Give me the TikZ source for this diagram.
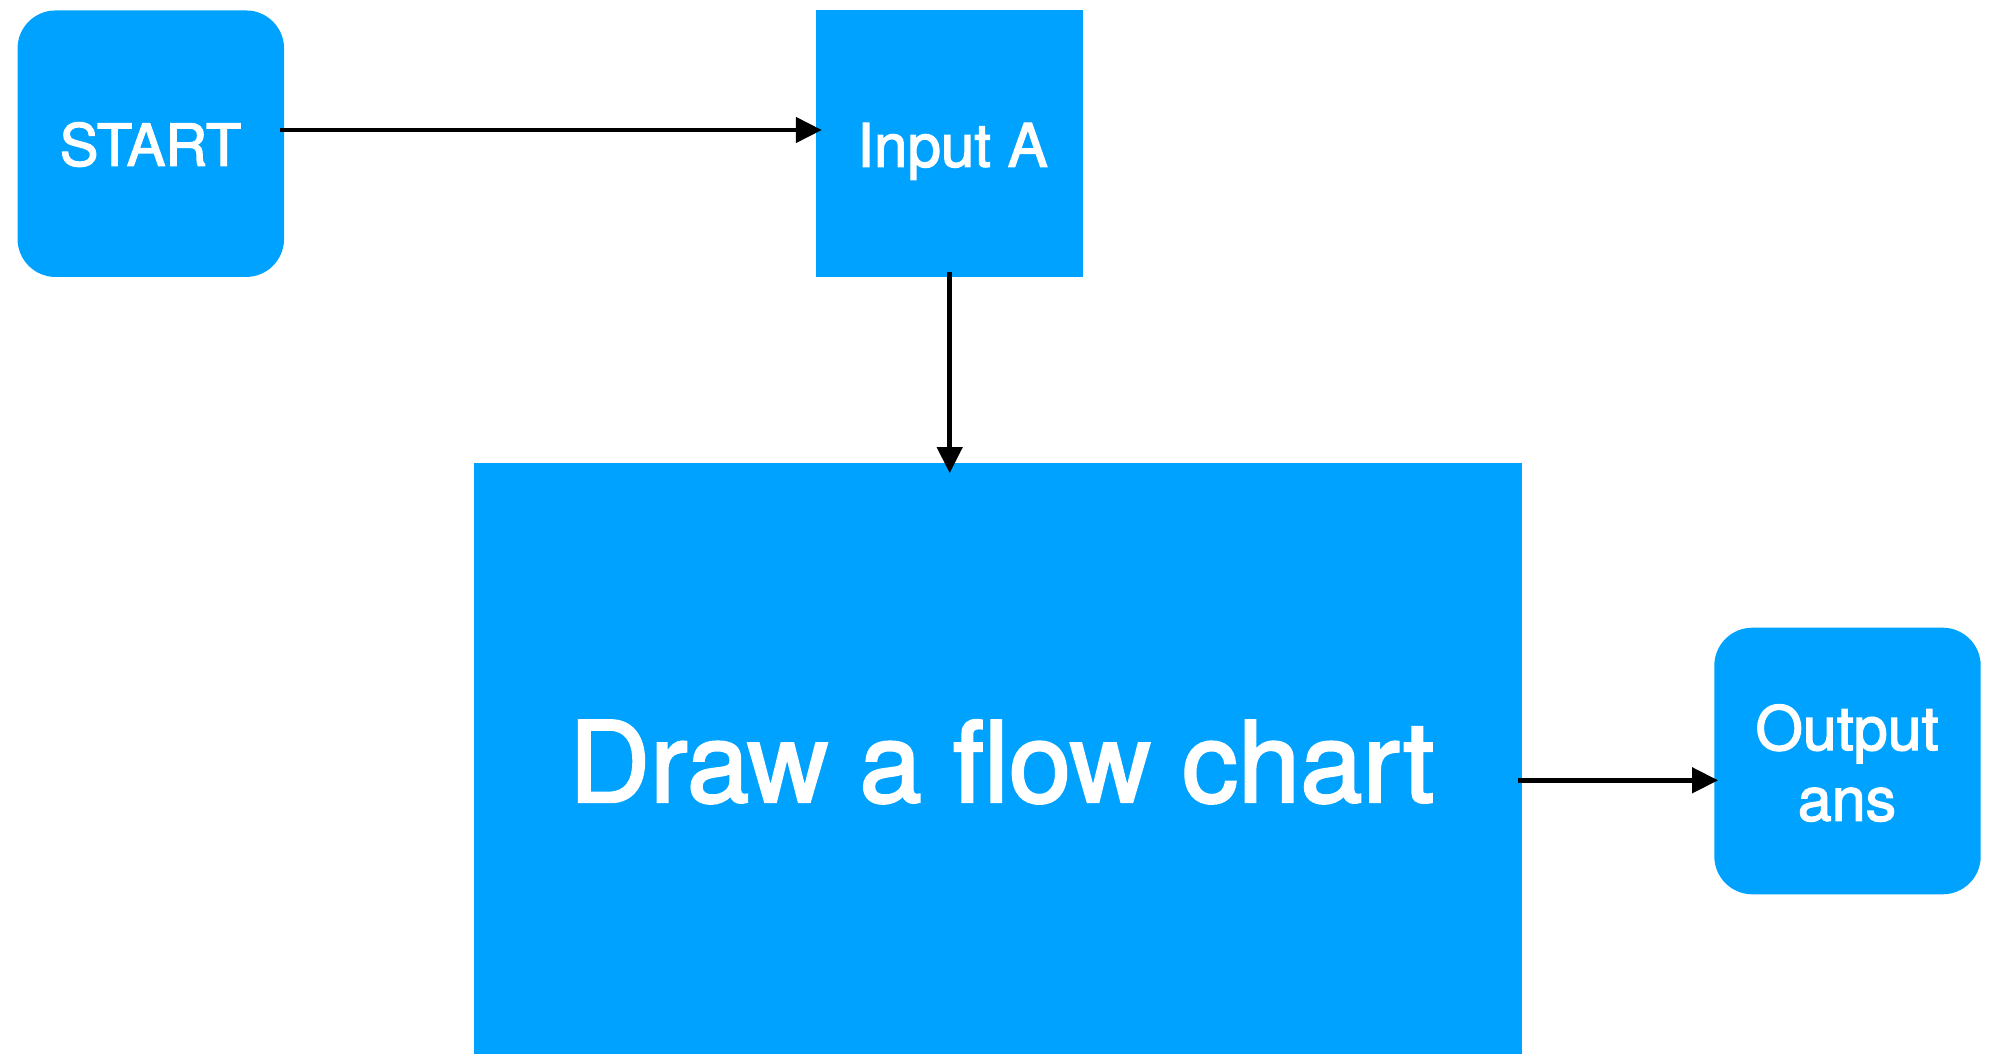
\documentclass[tikz,border=0pt]{standalone}
\usepackage{fontspec}
\setmainfont{TeX Gyre Heros}[RawFeature={embolden=2.2}]
\usetikzlibrary{arrows.meta}
\definecolor{boxblue}{RGB}{0,162,255}
\tikzset{
  stepbox/.style={fill=boxblue, draw=none, inner sep=0pt},
  roundbox/.style={stepbox, rounded corners=38pt},
  lbl/.style={text=white, inner sep=0pt, anchor=base},
  flow/.style={line width=4.5pt, -{Triangle[length=26pt,width=25pt]}}
}
\begin{document}
\begin{tikzpicture}[x=1pt,y=-1pt]
  \useasboundingbox (0,0) rectangle (1995,1054);
  % process boxes
  \node[roundbox, minimum width=266.5pt, minimum height=266.5pt] (start) at (150.8,143.7) {};
  \node[stepbox, minimum width=267.3pt, minimum height=266.5pt] (inputA) at (949.7,143.3) {};
  \node[stepbox, minimum width=1047.4pt, minimum height=591pt] (chart) at (998,758.5) {};
  \node[roundbox, minimum width=266.4pt, minimum height=266.6pt] (output) at (1847.5,761) {};
  % box labels, placed on their baselines
  \node[lbl, font=\fontsize{58}{70}\selectfont] (startlabel) at (150.5,165.7) {START};
  \node[lbl, font=\fontsize{60}{70}\selectfont] (inputlabel) at (952.5,166.7) {Input A};
  \node[lbl, font=\fontsize{112}{130}\selectfont] (chartlabel) at (1001.8,802) {Draw a flow chart};
  \node[lbl, font=\fontsize{61}{70}\selectfont] (outlabel) at (1847,750) {Output};
  \node[lbl, font=\fontsize{61}{70}\selectfont] (anslabel) at (1847,820.7) {ans};
  % connectors
  \draw[flow] ([xshift=-4pt,yshift=13.7pt]start.east) -- ([xshift=6pt,yshift=13.3pt]inputA.west);
  \draw[flow] ([yshift=5pt]inputA.south) -- ([yshift=-10.3pt]inputA.south |- chart.north);
  \draw[flow] ([xshift=-4pt]chart.east |- 0,780.3) -- ([xshift=4pt]output.west |- 0,780.3);
\end{tikzpicture}
\end{document}
